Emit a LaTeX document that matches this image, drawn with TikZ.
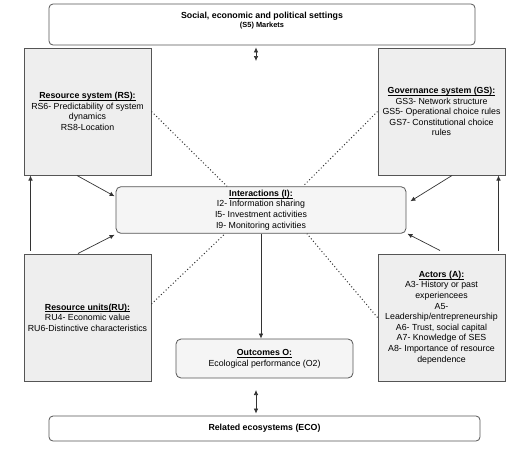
\documentclass[tikz,border=0pt]{standalone}
\usepackage{fontspec}
\setmainfont{Liberation Sans}
\usepackage{tikz}
\usetikzlibrary{arrows.meta, positioning, calc}
\definecolor{sesline}{HTML}{555555}
\definecolor{sesgray}{HTML}{EEEEEE}
\definecolor{seslight}{HTML}{F5F5F5}
\definecolor{sesarrow}{HTML}{333333}
\newcommand{\sestitle}[1]{\underline{\smash{\textbf{#1}}}\vphantom{(}}

\begin{document}
\begin{tikzpicture}[x=1pt, y=-1pt,
  outer/.style={rectangle, draw=sesline, fill=white, rounded corners=4pt,
    line width=0.8pt, font=\fontsize{8.8}{10.5}\selectfont\bfseries, align=center},
  tier/.style={rectangle, draw=sesline, fill=sesgray, line width=1pt,
    minimum width=127pt, minimum height=127pt, inner sep=2pt,
    font=\fontsize{8.8}{10.6}\selectfont, align=center},
  core/.style={rectangle, draw=sesline, fill=#1, rounded corners=5pt,
    line width=0.8pt, font=\fontsize{8.8}{10.6}\selectfont, align=center},
  conn/.style={draw=sesarrow, line width=0.7pt, -{Latex[length=5pt, width=4.5pt]}},
  both/.style={draw=sesarrow, line width=0.7pt, {Latex[length=5pt, width=4.5pt]}-{Latex[length=5pt, width=4.5pt]}},
  link/.style={draw=sesarrow, line width=1pt, dash pattern=on 1pt off 2.3pt},
]
  \useasboundingbox (0,0) rectangle (528,448);

  % outer settings
  \node[outer, minimum width=426pt, minimum height=41pt] (soc) at (262,24.5) {};
  \node[outer, draw=none, fill=none, inner sep=0pt] (soctxt) at (262,20.5)
    {Social, economic and political settings\\[-1pt]{\fontsize{7.4}{8}\selectfont (S5) Markets}};
  \node[outer, minimum width=431pt, minimum height=25pt] (eco) at (264.5,428.5) {Related ecosystems (ECO)};

  % first-tier variables
  \node[tier] (rs) at (87.5,111.5) {\sestitle{Resource system (RS):}\\
    RS6- Predictability of system\\ dynamics\\ RS8-Location};
  \node[tier] (gs) at (441.5,111.5) {\sestitle{Governance system (GS):}\\
    GS3- Network structure\\ GS5- Operational choice rules\\ GS7- Constitutional choice\\ rules};
  \node[tier] (ru) at (87.5,317.5) {\sestitle{Resource units(RU):}\\
    RU4- Economic value\\ RU6-Distinctive characteristics};
  \node[tier] (act) at (441.5,317.5) {\sestitle{Actors (A):}\\
    A3- History or past\\ experiencees\\ A5-\\ Leadership/entrepreneurship\\
    A6- Trust, social capital\\ A7- Knowledge of SES\\ A8- Importance of resource\\ dependence};

  \node[core=seslight, minimum width=290pt, minimum height=44pt] (inter) at (261,210)
    {\sestitle{Interactions (I):}\\ I2- Information sharing\\ I5- Investment activities\\ I9- Monitoring activities};
  \node[core=seslight, minimum width=177pt, minimum height=39pt] (out) at (264.5,358.5)
    {\sestitle{Outcomes O:}\\ Ecological performance (O2)};

  % dotted links
  \draw[link] (rs.east) -- ($(inter.north)+(-34,0)$);
  \draw[link] (gs.west) -- ($(inter.north)+(42,0)$);
  \draw[link] ($(ru.east)+(0,-13.5)$) -- ($(inter.south)+(-36,0)$);
  \draw[link] (act.west) -- ($(inter.south)+(46,0)$);

  % arrows
  \draw[conn] ($(rs.south)+(-10.5,0)$) -- ($(inter.north west)+(-1,10)$);
  \draw[conn] ($(ru.north)+(-9.5,0)$) -- ($(inter.south west)+(-1,1)$);
  \draw[conn] ($(gs.south)+(10.5,0)$) -- ($(inter.north east)+(4,15)$);
  \draw[conn] ($(act.north)+(-1.5,-3)$) -- ($(inter.south east)+(1,0)$);
  \draw[conn] ($(ru.north west)+(7,-3)$) -- ($(rs.south west)+(7,0)$);
  \draw[conn] ($(act.north east)+(-7,-3)$) -- ($(gs.south east)+(-7,0)$);
  \draw[conn] (inter.south) -- (inter.south |- out.north);

  \coordinate (systop) at (256,61);
  \coordinate (sysbot) at (256,390);
  \draw[both] ($(soc.south -| systop)+(0,2)$) -- (systop);
  \draw[both] (sysbot) -- ($(sysbot |- eco.north)+(0,-2)$);
\end{tikzpicture}
\end{document}
